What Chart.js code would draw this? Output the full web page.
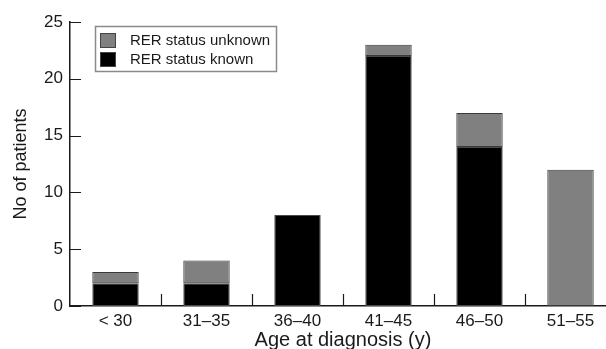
<!DOCTYPE html>
<html>
<head>
<meta charset="utf-8">
<script src="https://cdn.jsdelivr.net/npm/chart.js@4"></script>
<style>
  html, body { margin: 0; padding: 0; background: #fff; overflow: hidden; }
  #wrap { width: 616px; height: 356px; }
</style>
</head>
<body>
<div id="wrap"><canvas id="chart" width="616" height="356"></canvas></div>
<script>
  const ageGroups = ['< 30', '31\u201335', '36\u201340', '41\u201345', '46\u201350', '51\u201355'];
  const statusKnown = [2, 2, 8, 22, 14, 0];
  const statusUnknown = [1, 2, 0, 1, 3, 12];
  const yTicks = [0, 5, 10, 15, 20, 25];

  const FONT = '"Liberation Sans", Arial, Helvetica, sans-serif';
  const INK = '#1a1a1a';

  // inward tick marks on both axes (y at each tick value, x between categories)
  const innerTicks = {
    id: 'innerTicks',
    afterDraw(chart){
      const ctx = chart.ctx;
      const x = chart.scales.x, y = chart.scales.y;
      const area = chart.chartArea;
      ctx.save();
      ctx.strokeStyle = INK;
      ctx.lineWidth = 1.2;
      ctx.beginPath();
      yTicks.forEach(v => {
        const py = Math.round(y.getPixelForValue(v)) + 0.5;
        ctx.moveTo(area.left, py);
        ctx.lineTo(area.left + 11, py);
      });
      for(let i = 0; i < ageGroups.length - 1; i++){
        const px = Math.round((x.getPixelForValue(i) + x.getPixelForValue(i + 1)) / 2) + 0.5;
        ctx.moveTo(px, area.bottom);
        ctx.lineTo(px, area.bottom - 12);
      }
      ctx.stroke();
      ctx.restore();
    }
  };

  // boxed legend inside the plot, top left
  const boxLegend = {
    id: 'boxLegend',
    afterDraw(chart){
      const ctx = chart.ctx;
      const area = chart.chartArea;
      const items = chart.data.datasets.slice().reverse();
      const bx = area.left + 25, by = area.top + 4, bw = 181, bh = 45;
      ctx.save();
      ctx.fillStyle = '#fff';
      ctx.fillRect(bx, by, bw, bh);
      ctx.strokeStyle = '#8a8a8a';
      ctx.lineWidth = 1.5;
      ctx.strokeRect(bx + 0.5, by + 0.5, bw, bh);
      ctx.font = '15px ' + FONT;
      ctx.textBaseline = 'middle';
      items.forEach((ds, i) => {
        const cy = by + 14 + i * 19;
        ctx.fillStyle = ds.backgroundColor;
        ctx.fillRect(bx + 5, cy - 7, 16, 15);
        ctx.strokeStyle = '#444';
        ctx.lineWidth = 1;
        ctx.strokeRect(bx + 5.5, cy - 6.5, 15, 14);
        ctx.fillStyle = INK;
        ctx.fillText(ds.label, bx + 35, cy + 1);
      });
      ctx.restore();
    }
  };

  new Chart(document.getElementById('chart'), {
    type: 'bar',
    data: {
      labels: ageGroups,
      datasets: [
        { label: 'RER status known', data: statusKnown, backgroundColor: '#000000',
          borderColor: '#4a4a4a', borderWidth: 1, borderSkipped: false },
        { label: 'RER status unknown', data: statusUnknown, backgroundColor: '#808080',
          borderColor: '#3a3a3a', borderWidth: 1, borderSkipped: false }
      ]
    },
    options: {
      responsive: false,
      animation: false,
      devicePixelRatio: 1,
      layout: { padding: { top: 22, right: 0, left: 0, bottom: 0 } },
      datasets: { bar: { categoryPercentage: 1, barPercentage: 0.51 } },
      scales: {
        x: {
          stacked: true,
          grid: { display: false, drawTicks: false },
          border: { display: true, color: INK, width: 1.5 },
          ticks: { color: INK, font: { family: FONT, size: 17 }, padding: 5, maxRotation: 0 },
          title: { display: true, text: 'Age at diagnosis (y)', color: INK,
                   font: { family: FONT, size: 20 }, padding: { top: 4, bottom: 4 } },
          afterFit(scale){ scale.height = 50; }
        },
        y: {
          stacked: true,
          min: 0, max: 25,
          afterBuildTicks(scale){ scale.ticks = yTicks.map(v => ({ value: v })); },
          grid: { display: false, drawTicks: false },
          border: { display: true, color: INK, width: 1.5 },
          ticks: { color: INK, font: { family: FONT, size: 17 }, padding: 7 },
          title: { display: true, text: 'No of patients', color: INK,
                   font: { family: FONT, size: 18 }, padding: { top: 10, bottom: 0 } },
          afterFit(scale){ scale.width = 70; }
        }
      },
      plugins: {
        legend: { display: false },
        tooltip: { enabled: false }
      }
    },
    plugins: [innerTicks, boxLegend]
  });
</script>
</body>
</html>
